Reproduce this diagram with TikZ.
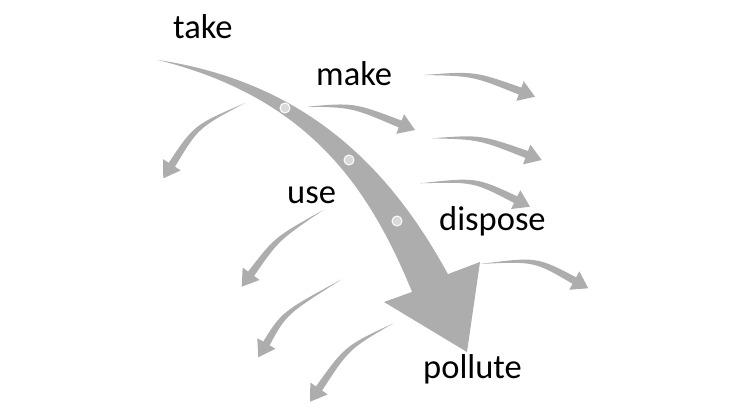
\documentclass[tikz,border=0pt]{standalone}
\usepackage{fontspec}
\setmainfont{Carlito}
\usetikzlibrary{calc}
\definecolor{arrowgray}{RGB}{173,173,173}
\definecolor{dotgray}{RGB}{217,217,217}
\newcommand{\smallarr}[4]{%
  \coordinate (#1s) at #2;
  \coordinate (#1c) at #3;
  \coordinate (#1t) at #4;
  \coordinate (#1b) at ($(#1t)!16pt!(#1c)$);
  \fill[arrowgray] (#1s) .. controls ($(#1c)!2.6pt!90:(#1t)$) .. ($(#1b)!3.7pt!90:(#1t)$)
     -- ($(#1b)!10.5pt!90:(#1t)$) -- (#1t) -- ($(#1b)!10.5pt!-90:(#1t)$)
     -- ($(#1b)!3.7pt!-90:(#1t)$) .. controls ($(#1c)!2.6pt!-90:(#1t)$) .. (#1s) -- cycle;
}
\tikzset{
  word/.style={anchor=base west, inner sep=0pt, font=\fontsize{34.5}{41}\selectfont, text=black},
  flowdot/.style={circle, fill=dotgray, draw=white, line width=1pt, minimum size=10pt, inner sep=0pt}
}
\begin{document}
\begin{tikzpicture}[x=1pt,y=-1pt]
\useasboundingbox (0,0) rectangle (730,410);
% small arrows
\smallarr{a1}{(423.3,75)}{(473.8,73.6)}{(535,96.7)}
\smallarr{a2}{(306.7,106.7)}{(352.9,105)}{(415,130)}
\smallarr{a3}{(431.7,138.3)}{(479.9,137.1)}{(541.7,160)}
\smallarr{a4}{(420,183.3)}{(474.8,179.5)}{(530,206.7)}
\smallarr{a5}{(480,264)}{(535.4,259)}{(588.3,288.3)}
\smallarr{a6}{(245,103)}{(196.1,126.4)}{(163.3,178.3)}
\smallarr{a7}{(323.3,210)}{(276.7,238.7)}{(241.7,286.7)}
\smallarr{a8}{(341.7,279.3)}{(284.2,313)}{(258.3,357.3)}
\smallarr{a9}{(393.3,323.3)}{(347,347.5)}{(310,401.7)}
% big arrow
\coordinate (bs) at (158,60);
\coordinate (bo1) at (309.4,82.8);
\coordinate (bo2) at (392.2,171.9);
\coordinate (bo3) at (447.9,274.1);
\coordinate (bi1) at (306.6,97.2);
\coordinate (bi2) at (367.8,184.1);
\coordinate (bi3) at (412.1,291.9);
\coordinate (hr) at (480,262);
\coordinate (ht) at (467,352);
\coordinate (hl) at (384,302);
\fill[arrowgray] (bs) .. controls (bo1) and (bo2) .. (bo3) -- (hr) -- (ht) -- (hl) -- (bi3)
   .. controls (bi2) and (bi1) .. (bs) -- cycle;
% dots
\node[flowdot] (d1) at (285,108) {};
\node[flowdot] (d2) at (349,160) {};
\node[flowdot] (d3) at (397,221) {};
% labels
\node[word] (take) at (173,38) {take};
\node[word] (make) at (316,85) {make};
\node[word] (use) at (287,203) {use};
\node[word] (dispose) at (439,230) {dispose};
\node[word] (pollute) at (423,378) {pollute};
\end{tikzpicture}
\end{document}
